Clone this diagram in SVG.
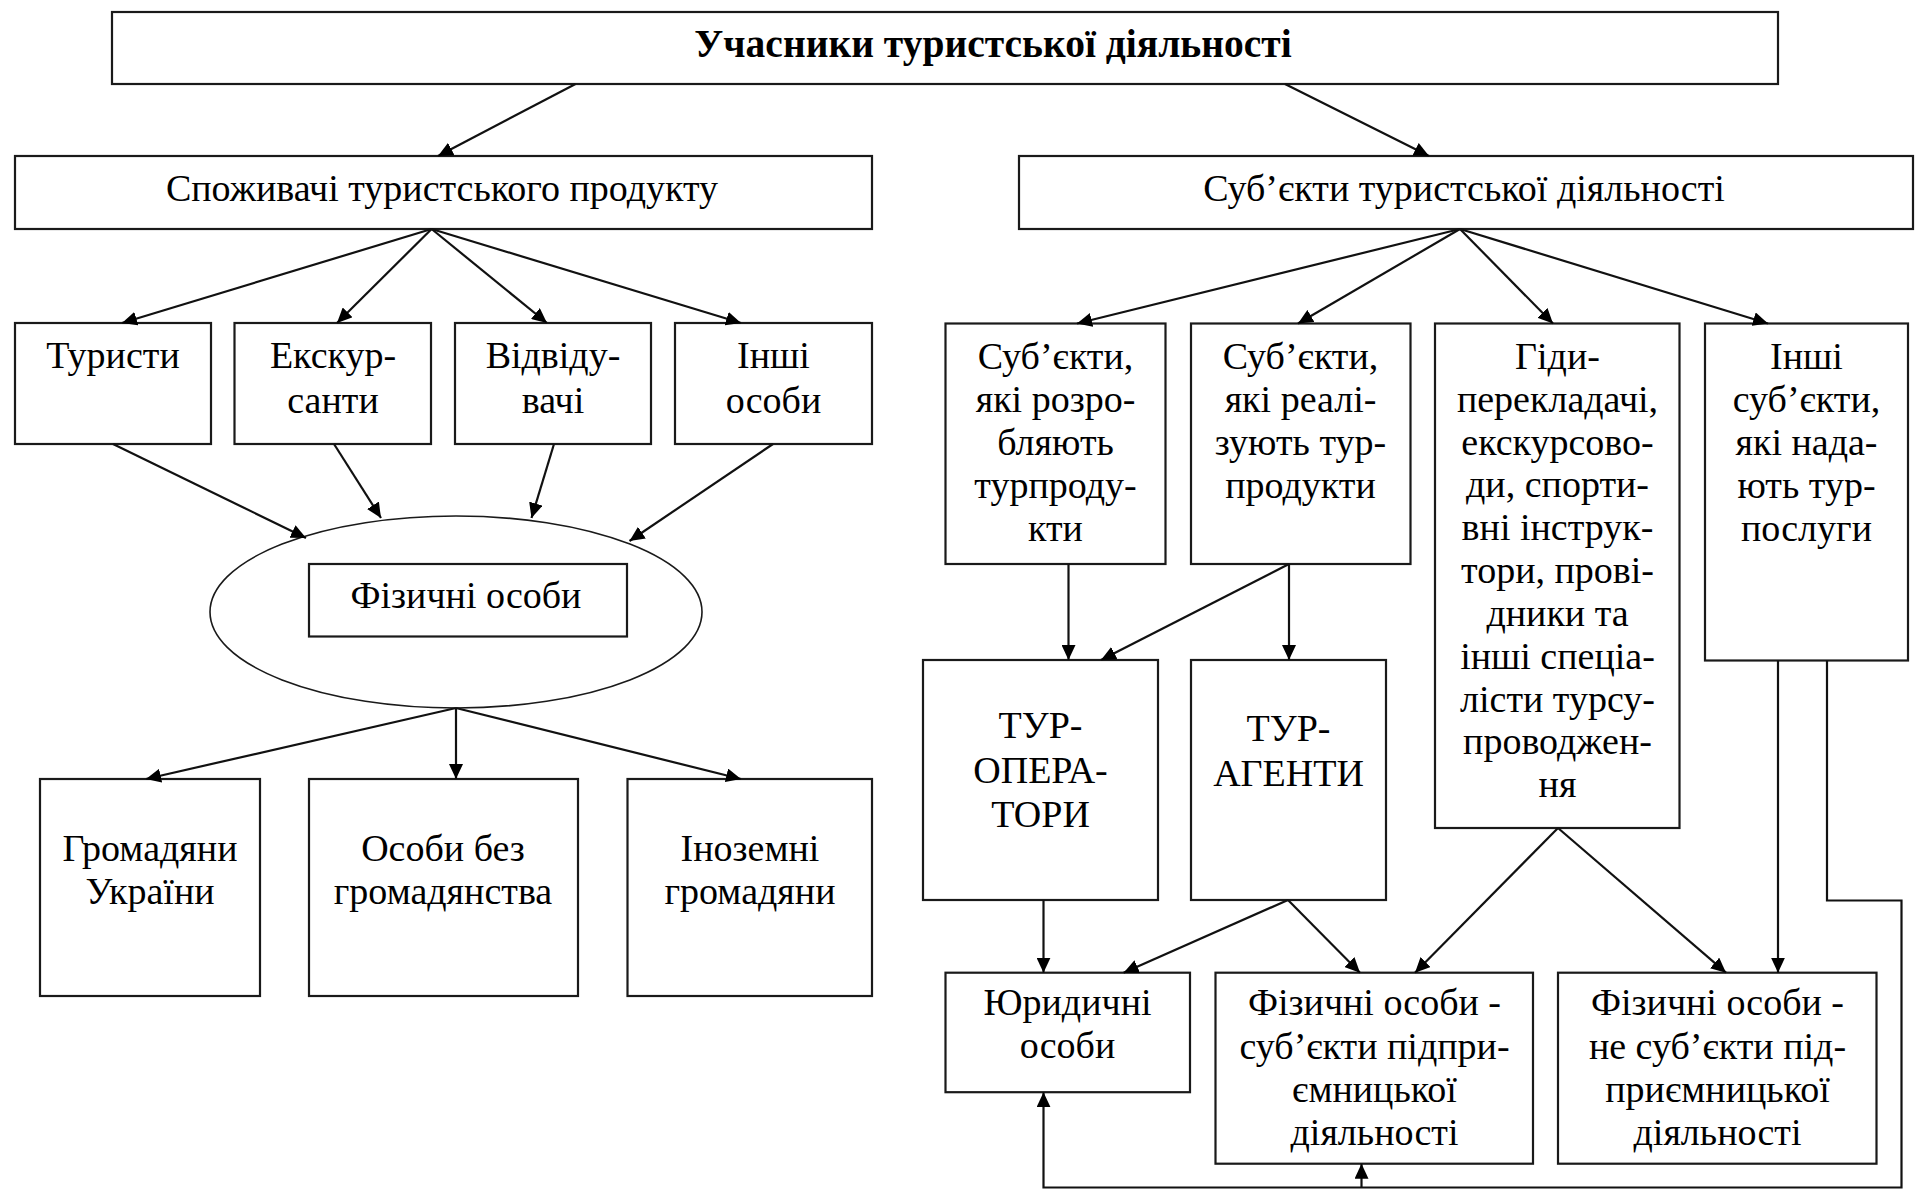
<svg xmlns="http://www.w3.org/2000/svg" width="1916" height="1191" viewBox="0 0 1916 1191">
<style>
.b{fill:#fff;stroke:#1a1a1a;stroke-width:2.2}
.e{fill:#fff;stroke:#1a1a1a;stroke-width:1.6}
.t{font-family:"Liberation Serif","Times New Roman",serif;font-size:38px;fill:#000;text-anchor:middle}
.tb{font-weight:bold;font-size:39.5px}
.c line,.c polyline{stroke:#111;stroke-width:2.2;fill:none}
</style>
<defs>
<marker id="ah" viewBox="0 0 15 14" refX="15" refY="7" markerWidth="15" markerHeight="14" markerUnits="userSpaceOnUse" orient="auto">
<path d="M0,0 L15,7 L0,14 z" fill="#000"/>
</marker>
</defs>
<rect width="1916" height="1191" fill="#fff"/>

<g id="title"><rect class="b" x="112" y="12" width="1666" height="72"/><text class="t tb" x="993" y="57">Учасники туристської діяльності</text></g>
<g id="consumers"><rect class="b" x="15" y="156" width="857" height="73"/><text class="t" x="442" y="201">Споживачі туристського продукту</text></g>
<g id="subjects"><rect class="b" x="1019" y="156" width="894" height="73"/><text class="t" x="1464" y="201">Суб’єкти туристської діяльності</text></g>

<g id="tourists"><rect class="b" x="15" y="323" width="196" height="121"/><text class="t" x="113" y="368">Туристи</text></g>
<g id="excursants"><rect class="b" x="234.5" y="323" width="196.5" height="121"/><text class="t" x="333" y="368">Екскур-</text><text class="t" x="333" y="413">санти</text></g>
<g id="visitors"><rect class="b" x="455" y="323" width="196" height="121"/><text class="t" x="553" y="368">Відвіду-</text><text class="t" x="553" y="413">вачі</text></g>
<g id="others"><rect class="b" x="675" y="323" width="197" height="121"/><text class="t" x="773.5" y="368">Інші</text><text class="t" x="773.5" y="413">особи</text></g>

<g id="natural"><ellipse class="e" cx="456" cy="612" rx="246" ry="96"/><rect class="b" x="309" y="564" width="318" height="72.5"/><text class="t" x="466" y="608">Фізичні особи</text></g>

<g id="citizens"><rect class="b" x="40" y="779" width="220" height="217"/><text class="t" x="150" y="861">Громадяни</text><text class="t" x="150" y="904">України</text></g>
<g id="stateless"><rect class="b" x="309" y="779" width="269" height="217"/><text class="t" x="443" y="861">Особи без</text><text class="t" x="443" y="904">громадянства</text></g>
<g id="foreigners"><rect class="b" x="627.5" y="779" width="244.5" height="217"/><text class="t" x="750" y="861">Іноземні</text><text class="t" x="750" y="904">громадяни</text></g>

<g id="developers"><rect class="b" x="945.5" y="323.5" width="220" height="240.5"/>
<text class="t" x="1055.5" y="369">Суб’єкти,</text><text class="t" x="1055.5" y="412">які розро-</text><text class="t" x="1055.5" y="455">бляють</text><text class="t" x="1055.5" y="498">турпроду-</text><text class="t" x="1055.5" y="541">кти</text></g>
<g id="sellers"><rect class="b" x="1191" y="323.5" width="219.5" height="240.5"/>
<text class="t" x="1300.5" y="369">Суб’єкти,</text><text class="t" x="1300.5" y="412">які реалі-</text><text class="t" x="1300.5" y="455">зують тур-</text><text class="t" x="1300.5" y="498">продукти</text></g>
<g id="guides"><rect class="b" x="1435" y="323.5" width="244.5" height="504.5"/>
<text class="t" x="1557.5" y="369">Гіди-</text><text class="t" x="1557.5" y="412">перекладачі,</text><text class="t" x="1557.5" y="455">екскурсово-</text><text class="t" x="1557.5" y="497">ди, спорти-</text><text class="t" x="1557.5" y="540">вні інструк-</text><text class="t" x="1557.5" y="583">тори, прові-</text><text class="t" x="1557.5" y="626">дники та</text><text class="t" x="1557.5" y="669">інші спеціа-</text><text class="t" x="1557.5" y="712">лісти турсу-</text><text class="t" x="1557.5" y="754">проводжен-</text><text class="t" x="1557.5" y="797">ня</text></g>
<g id="otherSubjects"><rect class="b" x="1705" y="323.5" width="203" height="337"/>
<text class="t" x="1806.5" y="369">Інші</text><text class="t" x="1806.5" y="412">суб’єкти,</text><text class="t" x="1806.5" y="455">які нада-</text><text class="t" x="1806.5" y="498">ють тур-</text><text class="t" x="1806.5" y="541">послуги</text></g>

<g id="operators"><rect class="b" x="923" y="660" width="235" height="240"/><text class="t" x="1040.5" y="738">ТУР-</text><text class="t" x="1040.5" y="783">ОПЕРА-</text><text class="t" x="1040.5" y="827">ТОРИ</text></g>
<g id="agents"><rect class="b" x="1191" y="660" width="195" height="240"/><text class="t" x="1288.5" y="741">ТУР-</text><text class="t" x="1288.5" y="786">АГЕНТИ</text></g>

<g id="legal"><rect class="b" x="945.5" y="972.7" width="244.5" height="119.5"/><text class="t" x="1067.5" y="1015">Юридичні</text><text class="t" x="1067.5" y="1058">особи</text></g>
<g id="entrepreneurs"><rect class="b" x="1215.5" y="972.7" width="317.5" height="191"/><text class="t" x="1374.5" y="1015">Фізичні особи -</text><text class="t" x="1374.5" y="1059">суб’єкти підпри-</text><text class="t" x="1374.5" y="1102">ємницької</text><text class="t" x="1374.5" y="1145">діяльності</text></g>
<g id="nonEntrepreneurs"><rect class="b" x="1558" y="972.7" width="318.5" height="191"/><text class="t" x="1717.5" y="1015">Фізичні особи -</text><text class="t" x="1717.5" y="1059">не суб’єкти під-</text><text class="t" x="1717.5" y="1102">приємницької</text><text class="t" x="1717.5" y="1145">діяльності</text></g>

<g id="connectors" class="c">
<line x1="575.5" y1="84" x2="438" y2="156" marker-end="url(#ah)"/>
<line x1="1285" y1="84" x2="1429" y2="156" marker-end="url(#ah)"/>
<line x1="431.6" y1="229" x2="122" y2="323" marker-end="url(#ah)"/>
<line x1="431.6" y1="229" x2="337" y2="323" marker-end="url(#ah)"/>
<line x1="431.6" y1="229" x2="547" y2="323" marker-end="url(#ah)"/>
<line x1="431.6" y1="229" x2="741" y2="323" marker-end="url(#ah)"/>
<line x1="1460" y1="229" x2="1077" y2="323.5" marker-end="url(#ah)"/>
<line x1="1460" y1="229" x2="1298" y2="323.5" marker-end="url(#ah)"/>
<line x1="1460" y1="229" x2="1553" y2="323.5" marker-end="url(#ah)"/>
<line x1="1460" y1="229" x2="1768" y2="323.5" marker-end="url(#ah)"/>
<line x1="113" y1="444" x2="306" y2="538" marker-end="url(#ah)"/>
<line x1="334" y1="444" x2="381" y2="518" marker-end="url(#ah)"/>
<line x1="554" y1="444" x2="531.5" y2="518" marker-end="url(#ah)"/>
<line x1="773" y1="444" x2="629.5" y2="541" marker-end="url(#ah)"/>
<line x1="456" y1="708" x2="146" y2="779" marker-end="url(#ah)"/>
<line x1="456" y1="708" x2="456" y2="779" marker-end="url(#ah)"/>
<line x1="456" y1="708" x2="741" y2="779" marker-end="url(#ah)"/>
<line x1="1068.5" y1="564" x2="1068.5" y2="660" marker-end="url(#ah)"/>
<line x1="1289" y1="564" x2="1289" y2="660" marker-end="url(#ah)"/>
<line x1="1289" y1="564" x2="1101" y2="660" marker-end="url(#ah)"/>
<line x1="1043.5" y1="900" x2="1043.5" y2="972.7" marker-end="url(#ah)"/>
<line x1="1288" y1="900" x2="1123.6" y2="972.7" marker-end="url(#ah)"/>
<line x1="1288" y1="900" x2="1360" y2="972.7" marker-end="url(#ah)"/>
<line x1="1558" y1="828" x2="1415" y2="972.7" marker-end="url(#ah)"/>
<line x1="1558" y1="828" x2="1726" y2="972.7" marker-end="url(#ah)"/>
<line x1="1778" y1="660.5" x2="1778" y2="972.7" marker-end="url(#ah)"/>
<polyline points="1827,660.5 1827,900.5 1901.5,900.5 1901.5,1187.5 1043.5,1187.5 1043.5,1092.2" marker-end="url(#ah)"/>
<line x1="1361.5" y1="1187.5" x2="1361.5" y2="1163.7" marker-end="url(#ah)"/>
</g>
</svg>
